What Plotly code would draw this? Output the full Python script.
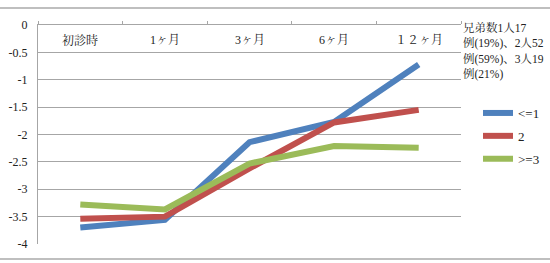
import plotly.graph_objects as go

categories = ["初診時", "1ヶ月", "3ヶ月", "6ヶ月", "１２ヶ月"]
s1_name = "<=1"
s1 = [-3.70, -3.56, -2.14, -1.77, -0.72]
s2_name = "2"
s2 = [-3.54, -3.50, -2.62, -1.78, -1.55]
s3_name = ">=3"
s3 = [-3.28, -3.37, -2.53, -2.21, -2.24]
note_lines = ["兄弟数1人17", "例(19%)、2人52", "例(59%)、3人19", "例(21%)"]
yticks = [0, -0.5, -1, -1.5, -2, -2.5, -3, -3.5, -4]

W, H = 550, 263
L, R, T, B = 38, 89, 25, 19
pw, ph = W - L - R, H - T - B

serif = "Liberation Serif, Noto Serif CJK JP, Noto Sans CJK JP"

fig = go.Figure()
for name, vals, col in [(s1_name, s1, "#4F81BD"), (s2_name, s2, "#C0504D"), (s3_name, s3, "#9BBB59")]:
    fig.add_trace(go.Scatter(x=categories, y=vals, name=name, mode="lines", legendgroup=name,
                             line=dict(color=col, width=6)))

fig.update_layout(
    width=W, height=H,
    margin=dict(l=L, r=R, t=T, b=B, autoexpand=False),
    paper_bgcolor="white", plot_bgcolor="white",
    font=dict(family=serif, size=12, color="#222"),
    xaxis=dict(type="category", side="top", showticklabels=False,
               showgrid=False, showline=True, linecolor="#A6A6A6", linewidth=1,
               ticks="outside", tickson="boundaries", ticklen=3, tickcolor="#A6A6A6",
               range=[-0.5, 4.5]),
    yaxis=dict(range=[-4, 0], tickvals=yticks, ticktext=[str(v) for v in yticks],
               showgrid=True, gridcolor="#A6A6A6", gridwidth=1,
               showline=True, linecolor="#A6A6A6", zeroline=False,
               ticks="outside", ticklen=7, tickcolor="rgba(0,0,0,0)",
               tickfont=dict(size=12, family=serif)),
    legend=dict(x=(478 - L) / pw, y=(244 - 98) / ph, xanchor="left", yanchor="top",
                bgcolor="rgba(0,0,0,0)", font=dict(size=13, family=serif),
                tracegroupgap=3, itemwidth=30),
    showlegend=True,
)

for c in categories:
    fig.add_annotation(text=c, x=c, xref="x", yref="paper", y=(244 - 40) / ph,
                       yanchor="middle", showarrow=False,
                       font=dict(size=12, family=serif, color="#222"))

for i, ln in enumerate(note_lines):
    yy = [27, 43, 59, 74][i]
    fig.add_annotation(text=ln, xref="paper", yref="paper",
                       x=(462 - L) / pw, y=(244 - yy) / ph, xanchor="left", yanchor="middle",
                       align="left", showarrow=False, borderpad=0,
                       font=dict(size=11.5, family=serif, color="#222"))

for yy in [8, 259]:
    fig.add_shape(type="line", xref="paper", yref="paper",
                  x0=-L / pw, x1=(W - L) / pw, y0=(244 - yy) / ph, y1=(244 - yy) / ph,
                  line=dict(color="#BFBFBF", width=2))

fig.write_html("out.html")
